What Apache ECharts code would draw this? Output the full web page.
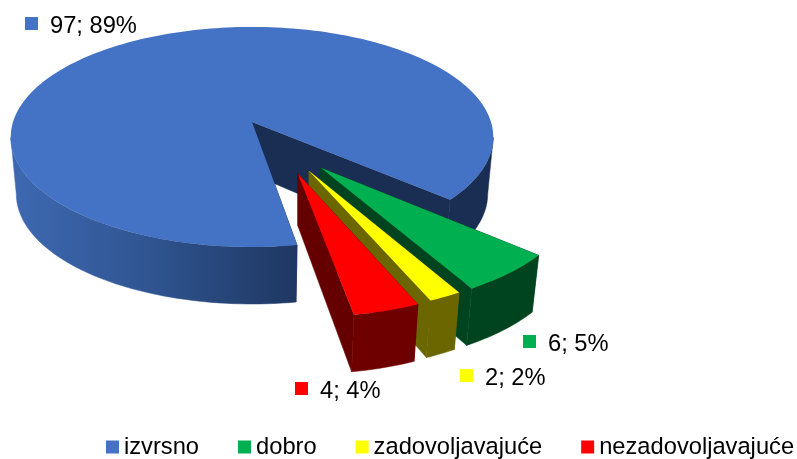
<!DOCTYPE html>
<html><head><meta charset="utf-8">
<style>html,body{margin:0;padding:0;background:#fff}#c{width:797px;height:459px}</style>
<script src="https://cdn.jsdelivr.net/npm/echarts@6/dist/echarts.min.js"></script>
</head><body><div id="c"></div>
<script>
// --- data ---
const categories = ['izvrsno', 'dobro', 'zadovoljavajuće', 'nezadovoljavajuće'];
const counts = [97, 6, 2, 4];
const percents = [89, 5, 2, 4];
// --- style / layout ---
const topColors = ['#4472C4', '#00B050', '#FFFF00', '#FF0000'];
const wallColors = ['#1A2E54', '#00441F', '#6B6600', '#6F0000'];
const cutColors = ['#1A2E54', '#00441F', '#6B6600', '#640000'];
const labelAnchors = [[25, 17], [523, 335], [460, 369], [295, 382]];
const explodeOffsets = [[0, 0], [0.272, 0.401], [0.225, 0.427], [0.18, 0.45]];
const FIRST_ANGLE = 80.6, CX = 252, CY = 122, RX = 239, RY = 108, K = 0.136;
const FONT = '23.7px "Liberation Sans", Arial, sans-serif';

const total = counts.reduce((a, b) => a + b, 0);
function topPt(o, deg, r) {
  const a = deg * Math.PI / 180;
  const x = o[0] + r * Math.cos(a), y = o[1] + r * Math.sin(a);
  const w = 1 - K * y;
  return [CX + RX * x / w, CY + RY * y / w];
}
function lower(p) { return [CX + 0.977 * (p[0] - CX), p[1] + 57]; }
function lowerApex(p) { return [p[0], p[1] + 52]; }
function arc(o, a0, a1, r) {
  const n = Math.max(2, Math.ceil(Math.abs(a1 - a0) / 1.5));
  const pts = [];
  for (let i = 0; i <= n; i++) pts.push(topPt(o, a0 + (a1 - a0) * i / n, r));
  return pts;
}
function poly(points, fill) {
  return { type: 'polygon', shape: { points }, style: { fill, stroke: fill, lineWidth: 0.5 } };
}
function plainPoly(points, fill) {
  return { type: 'polygon', shape: { points }, style: { fill, stroke: null } };
}
function wall(o, a0, a1, fill) {
  const upper = arc(o, a0, a1, 1);
  return poly(upper.concat(upper.map(lower).reverse()), fill);
}
function cut(o, a, fill) {
  const c = topPt(o, 0, 0), e = topPt(o, a, 1);
  return poly([c, e, lower(e), lowerApex(c)], fill);
}
function renderSlice(idx) {
  return function (params, api) {
    const v = api.value(0);
    let before = 0;
    for (let i = 0; i < idx; i++) before += counts[i];
    const start = FIRST_ANGLE + before / total * 360 - (idx > 0 ? 360 : 0);
    const end = start + v / total * 360;
    const o = explodeOffsets[idx];
    const children = [];
    children.push(cut(o, start, cutColors[idx]));
    children.push(cut(o, end, cutColors[idx]));
    if (idx === 0) {
      const grad = new echarts.graphic.LinearGradient(10, 0, 296, 0, [
        { offset: 0, color: '#3E69B2' },
        { offset: 0.5, color: '#2F5490' },
        { offset: 1, color: '#1F3762' }
      ], true);
      children.push(wall(o, start, 172, grad));
      children.push(wall(o, 368, end, wallColors[0]));
    } else {
      children.push(wall(o, start, end, wallColors[idx]));
    }
    children.push(plainPoly([topPt(o, 0, 0)].concat(arc(o, start, end, 1)), topColors[idx]));
    const p = labelAnchors[idx];
    children.push({ type: 'rect', shape: { x: p[0], y: p[1], width: 13, height: 13 }, style: { fill: topColors[idx] } });
    children.push({
      type: 'text',
      style: {
        x: p[0] + 25, y: p[1] + 9, text: v + '; ' + percents[idx] + '%',
        font: FONT, fill: '#000', verticalAlign: 'middle'
      }
    });
    return { type: 'group', children };
  };
}
const chart = echarts.init(document.getElementById('c'), null, { renderer: 'canvas' });
chart.setOption({
  animation: false,
  color: topColors,
  legend: {
    left: 106, top: 435, itemWidth: 13, itemHeight: 13, itemGap: 39,
    icon: 'rect', padding: 0, selectedMode: false,
    data: categories,
    textStyle: { fontFamily: '"Liberation Sans", Arial, sans-serif', fontSize: 23.7, color: '#000' }
  },
  series: categories.map((name, i) => ({
    type: 'custom',
    name,
    coordinateSystem: 'none',
    silent: true,
    z: 2 + i,
    itemStyle: { color: topColors[i] },
    data: [[counts[i]]],
    renderItem: renderSlice(i)
  }))
});
</script></body></html>
